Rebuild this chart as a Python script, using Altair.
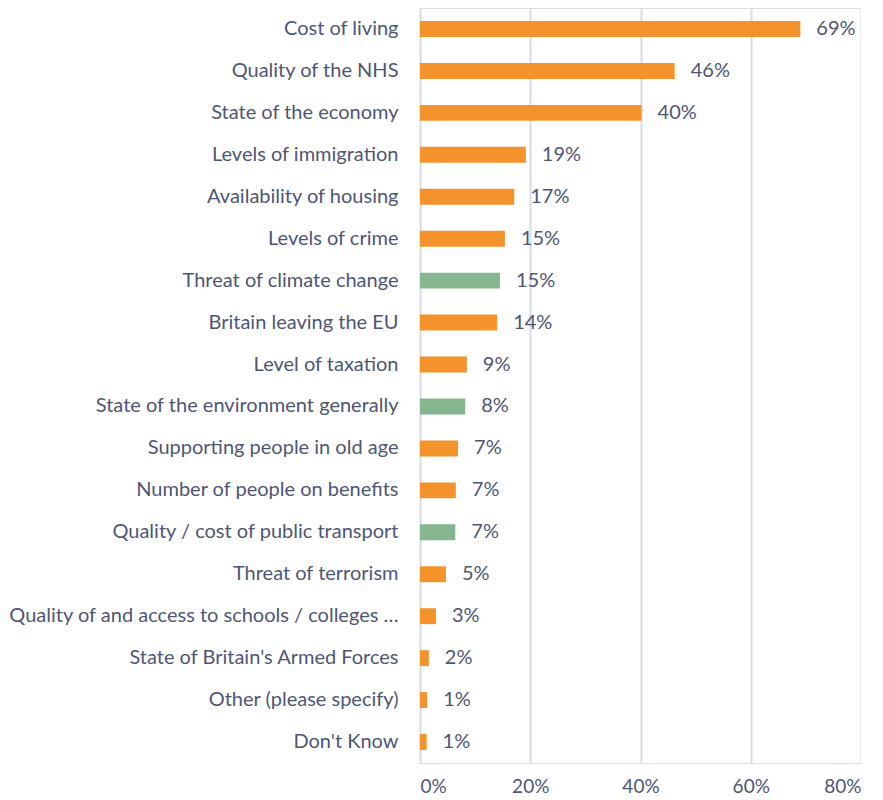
import altair as alt
import pandas as pd

categories = [
    "Cost of living", "Quality of the NHS", "State of the economy",
    "Levels of immigration", "Availability of housing", "Levels of crime",
    "Threat of climate change", "Britain leaving the EU", "Level of taxation",
    "State of the environment generally", "Supporting people in old age",
    "Number of people on benefits", "Quality / cost of public transport",
    "Threat of terrorism",
    "Quality of and access to schools / colleges / universities",
    "State of Britain's Armed Forces", "Other (please specify)", "Don't Know",
]
values = [69.0, 46.2, 40.2, 19.2, 17.1, 15.4, 14.5, 14.0, 8.5, 8.2, 6.9, 6.5,
          6.4, 4.7, 2.9, 1.6, 1.3, 1.2]
labels = ["69%", "46%", "40%", "19%", "17%", "15%", "15%", "14%", "9%", "8%",
          "7%", "7%", "7%", "5%", "3%", "2%", "1%", "1%"]
groups = ["other", "other", "other", "other", "other", "other", "env", "other",
          "other", "env", "other", "other", "env", "other", "other", "other",
          "other", "other"]

df = pd.DataFrame({
    "category": categories,
    "value": [v / 100 for v in values],
    "label": labels,
    "group": groups,
})

FONT = "Lato"
TEXT = "#4F5673"

y = alt.Y("category:N", sort=categories, title=None,
          scale=alt.Scale(paddingInner=0.62, paddingOuter=0.31),
          axis=alt.Axis(labelFont=FONT, labelFontSize=20, labelColor=TEXT,
                        labelLimit=392, labelPadding=22, ticks=False,
                        domain=False, grid=False))
x = alt.X("value:Q", title=None,
          scale=alt.Scale(domain=[0, 0.8], nice=False),
          axis=alt.Axis(format=".0%", values=[0, 0.2, 0.4, 0.6, 0.8],
                        labelFont=FONT, labelFontSize=19, labelColor=TEXT,
                        labelPadding=14, ticks=False, domain=False,
                        grid=True, gridColor="#D9DBE3", gridWidth=2))

bars = alt.Chart(df).mark_bar().encode(
    y=y, x=x,
    color=alt.Color("group:N", legend=None,
                    scale=alt.Scale(domain=["other", "env"],
                                    range=["#F4932C", "#85B68F"])),
)

text = alt.Chart(df).mark_text(align="left", baseline="middle", dx=16,
                               font=FONT, fontSize=20, color=TEXT).encode(
    y=alt.Y("category:N", sort=categories),
    x=alt.X("value:Q"),
    text="label:N",
)

chart = (bars + text).properties(
    width=441, height=755, padding=0
).configure_view(stroke=None).configure(background="white")

chart.save("out.html", embed_options={"renderer": "svg", "actions": False})
